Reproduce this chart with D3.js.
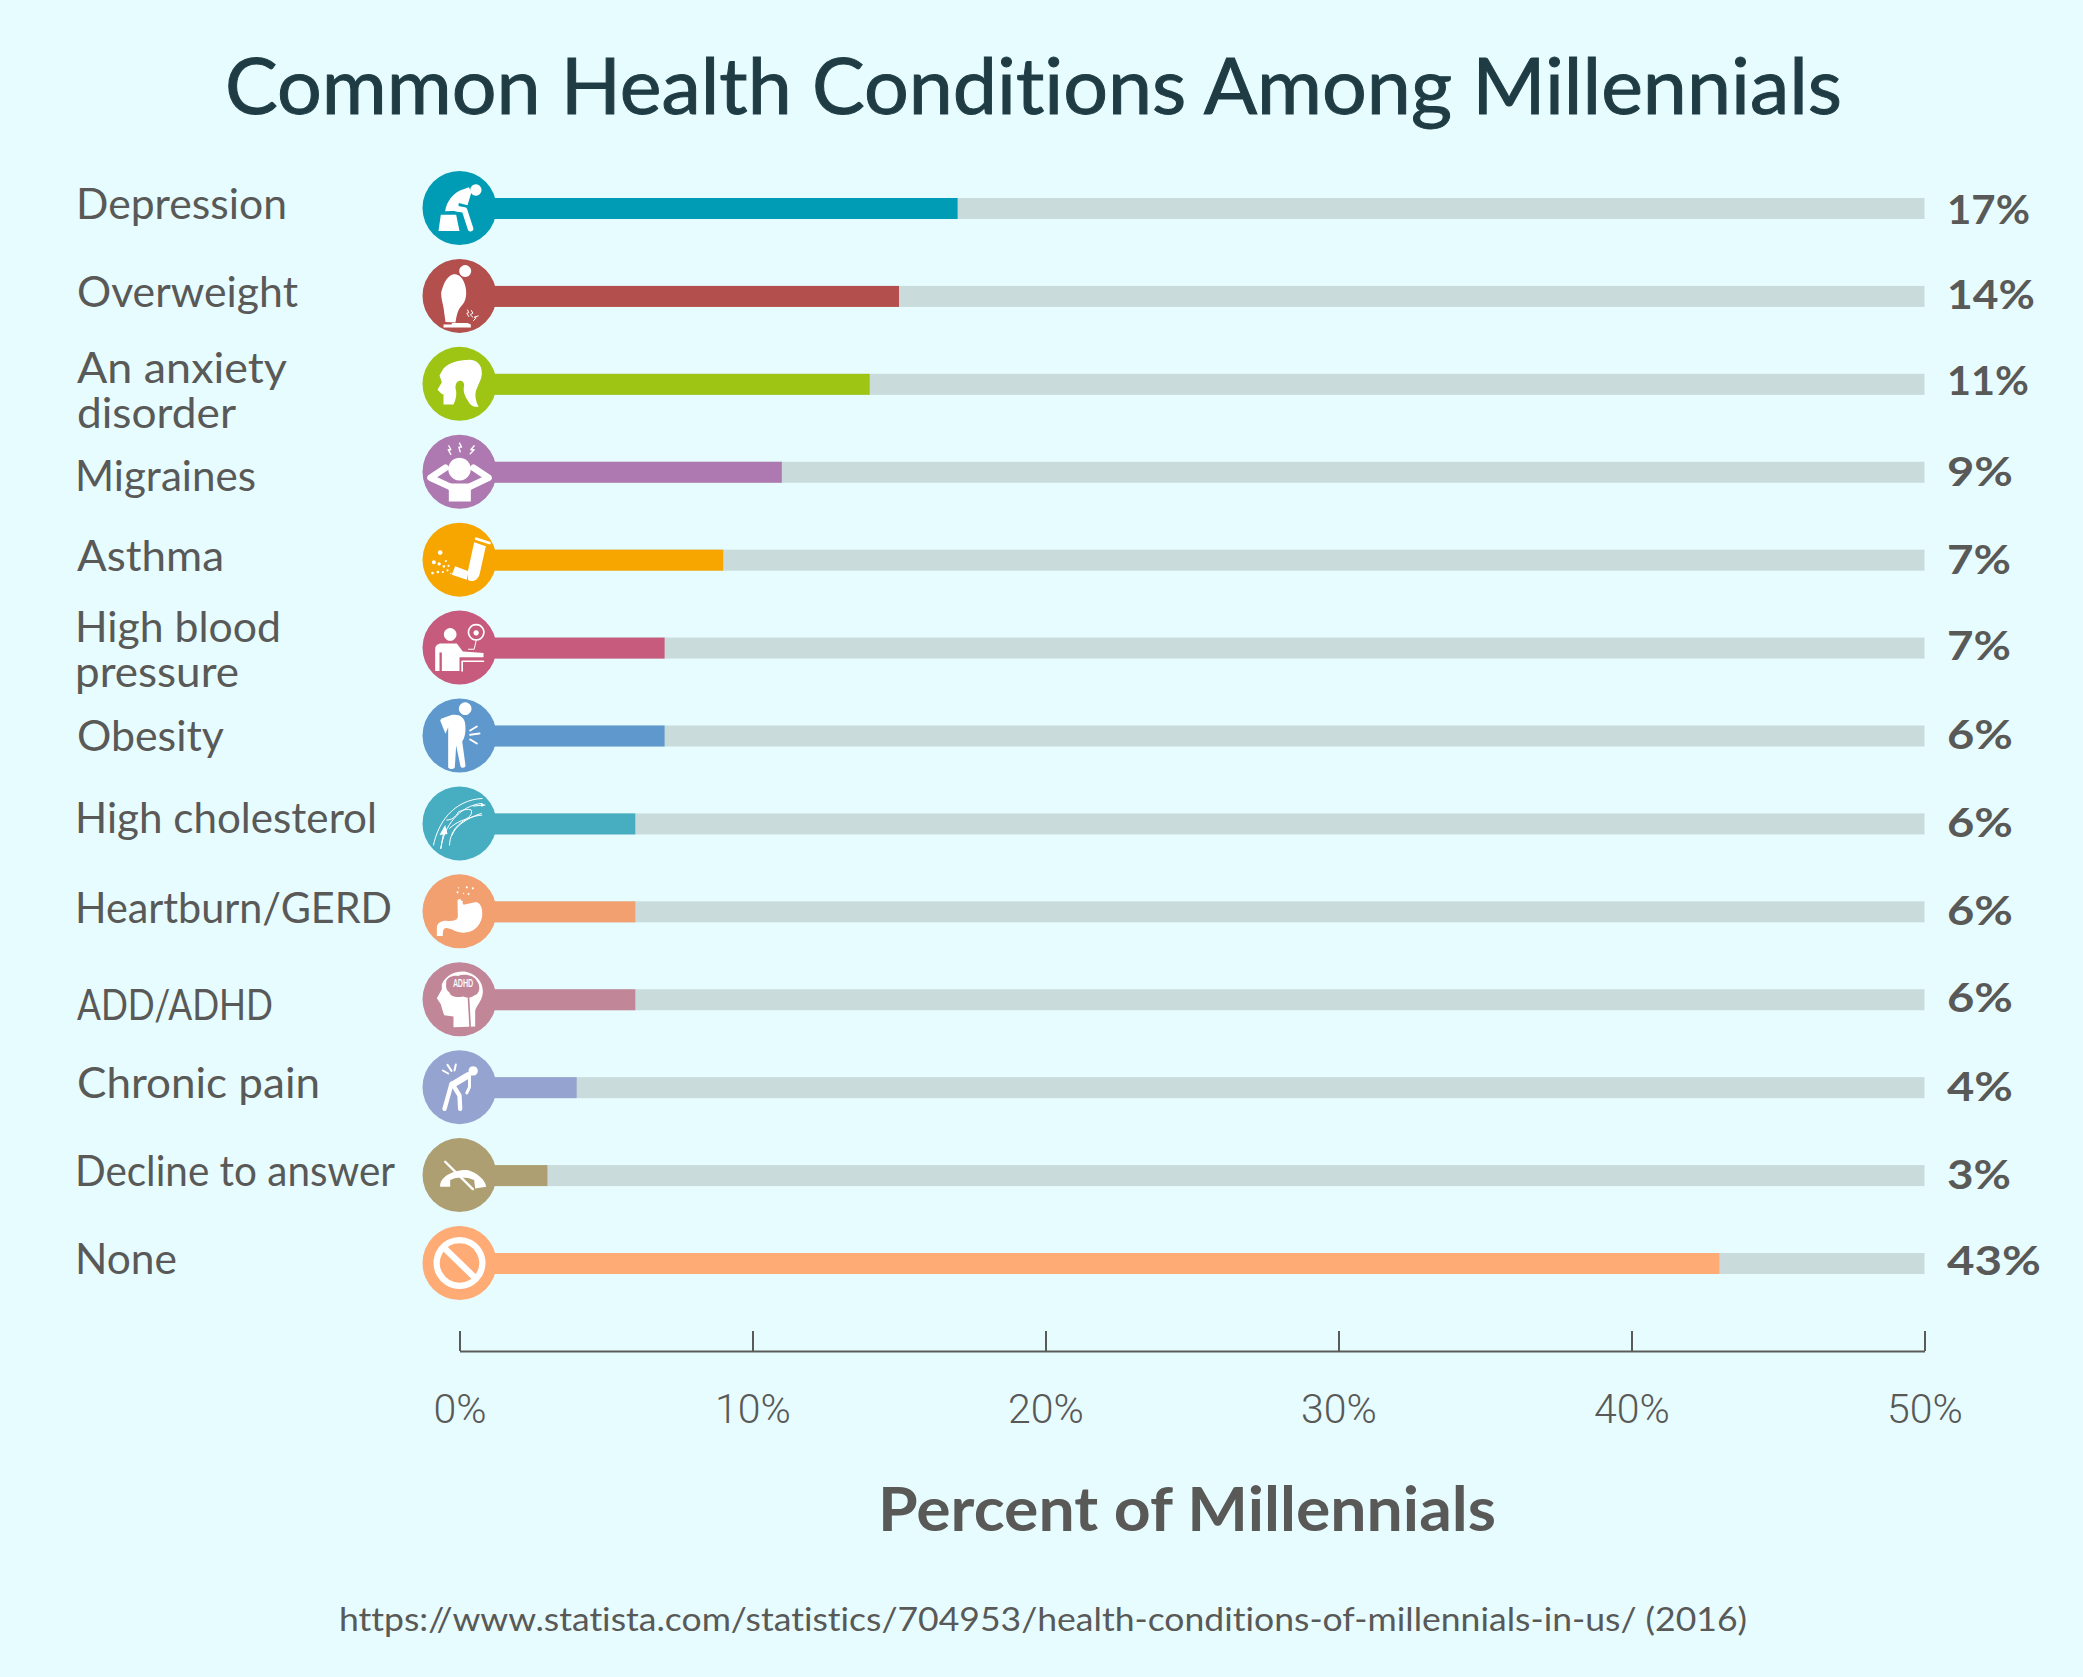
<!DOCTYPE html>
<html>
<head>
<meta charset="utf-8">
<script src="https://cdn.jsdelivr.net/npm/d3@7"></script>
<style>
  html, body { margin: 0; padding: 0; background: #e7fcff; }
  svg { display: block; }
  text { font-family: Lato, sans-serif; fill: #595957; font-variant-ligatures: none; }
</style>
</head>
<body>
<script>
// values
var categories = ["Depression", "Overweight", "An anxiety disorder", "Migraines", "Asthma", "High blood pressure", "Obesity", "High cholesterol", "Heartburn/GERD", "ADD/ADHD", "Chronic pain", "Decline to answer", "None"];
var barValues = [17, 15, 14, 11, 9, 7, 7, 6, 6, 6, 4, 3, 43];
var shownLabels = ["17%", "14%", "11%", "9%", "7%", "7%", "6%", "6%", "6%", "6%", "4%", "3%", "43%"];
var colours = ["#009cb5", "#b34f4c", "#9fc514", "#ae78b0", "#f7a600", "#c75b7e", "#5f98cc", "#47adc1", "#f2a070", "#c28699", "#95a3d0", "#ae9f73", "#ffab76"];
var xTicks = [0, 10, 20, 30, 40, 50];

var titleText = "Common Health Conditions Among Millennials";
var xTitle = "Percent of Millennials";
var sourceText = "https://www.statista.com/statistics/704953/health-conditions-of-millennials-in-us/ (2016)";

// label layout, the reference labels are not regular
var labelLines = [["Depression"], ["Overweight"], ["An anxiety", "disorder"], ["Migraines"], ["Asthma"], ["High blood", "pressure"], ["Obesity"], ["High cholesterol"], ["Heartburn/GERD"], ["ADD/ADHD"], ["Chronic pain"], ["Decline to answer"], ["None"]];
var labelWidths = [[211], [221], [210, 159], [181], [147], [206, 164], [147], [302], [317], [196], [243], [320], [102]];
var labelLeft = [76, 77, 77, 75, 77, 75, 77, 75, 75, 77, 77, 75, 75];
var labelBaseline = [[219], [307], [383, 428], [491], [571], [642, 687], [751], [833], [923], [1020], [1098], [1186], [1274]];
var valueBaseline = [224, 309, 395, 486, 574, 660, 749, 837, 925, 1012, 1101, 1189, 1275];
var valueWidths = [83, 88, 82, 66, 64, 64, 66, 66, 66, 66, 66, 64, 94];

var width = 2083, height = 1677;

var svg = d3.select("body").append("svg")
    .attr("width", width)
    .attr("height", height);

svg.append("rect")
    .attr("width", width)
    .attr("height", height)
    .attr("fill", "#e7fcff");

var x = d3.scaleLinear().domain([0, 50]).range([459.5, 1924.5]);
var y = d3.scalePoint().domain(categories).range([208, 1263]);

svg.append("text")
    .attr("x", 225)
    .attr("y", 114)
    .attr("font-size", 78)
    .attr("textLength", 1617)
    .attr("lengthAdjust", "spacingAndGlyphs")
    .style("fill", "#1f3c44")
    .style("stroke", "#1f3c44")
    .style("stroke-width", 1)
    .text(titleText);

// grey tracks
svg.selectAll("rect.track")
    .data(categories)
    .enter().append("rect")
    .attr("class", "track")
    .attr("x", x(0))
    .attr("y", function(d) { return y(d) - 10; })
    .attr("width", x(50) - x(0))
    .attr("height", 21)
    .attr("fill", "#c9dcdb");

// coloured bars
svg.selectAll("rect.bar")
    .data(categories)
    .enter().append("rect")
    .attr("class", "bar")
    .attr("x", x(0))
    .attr("y", function(d) { return y(d) - 10; })
    .attr("width", function(d, i) { return x(barValues[i]) - x(0); })
    .attr("height", 21)
    .attr("fill", function(d, i) { return colours[i]; });

svg.selectAll("circle.badge")
    .data(categories)
    .enter().append("circle")
    .attr("class", "badge")
    .attr("cx", x(0))
    .attr("cy", function(d) { return y(d); })
    .attr("r", 37)
    .attr("fill", function(d, i) { return colours[i]; });

// icons, drawn in units of 1/3 px around the badge centre
// [path, stroke width, butt caps, row colour] - no stroke width means filled
var icons = [
  [["M49,-71a17,17 0 1,0 .1,0Z"], ["M-56,20L-10,20L0,69L-63,69Z"],
   ["M-43,10C-40,-18 -18,-48 12,-56L28,-62L36,-48L24,-8L-2,-15L-5,8Z"], ["M-10,2L15,6L33,62", 17]],
  [["M17,-92.5a18,18 0 1,0 .1,0Z"],
   ["M-18,-65C-40,-60 -50,-30 -55,-10C-55,15 -48,25 -46,50L-42,78L-12,80C-8,55 -5,40 10,25C22,10 24,-20 12,-45C6,-58 -5,-66 -18,-65Z"],
   ["M-48,86L-24,86L-22,81L24,81L34,86L34,95L-48,95Z"],
   ["M24,42L28,50L22,52L28,62", 3], ["M36,44L40,52L32,56L40,64", 3], ["M56,60L44,64L50,66L42,74", 3]],
  [["M-53,-38C-40,-62 -5,-72 32,-72C58,-70 68,-50 67,-30C66,-5 45,15 48,40C50,55 55,65 58,68C45,72 32,65 25,50C15,35 10,20 14,5C14,-8 5,-12 -3,-8C-12,-4 -14,8 -10,22C-8,40 -15,55 -18,62L-48,62L-48,32L-54,30L-66,18L-53,-5L-60,-25Z"]],
  [["M0,-42a34,34 0 1,0 .1,0Z"], ["M-50,35L50,35L34,55L34,89L-32,89L-32,55Z"],
   ["M-30,44L-87,18L-42,-12", 20], ["M32,44L87,18L42,-12", 20],
   ["M-32,-78L-26,-66L-34,-66L-26,-52", 4], ["M0,-86L6,-74L-2,-74L2,-60", 4], ["M44,-78L34,-66L44,-66L32,-54", 4]],
  [["M44,-52L79,-40L60,45C52,65 38,66 26,62L25,35Z"], ["M50,-63L90,-50", 8], ["M-13,20L27,35L22,60L-23,45Z"],
   ["M-58,-28a7,7 0 1,0 .1,0Z"], ["M-77,2a6,6 0 1,0 .1,0Z"], ["M-61,8a5,5 0 1,0 .1,0Z"], ["M-47,16a4,4 0 1,0 .1,0Z"],
   ["M-33,15a3,3 0 1,0 .1,0Z"], ["M-41,1a3,3 0 1,0 .1,0Z"], ["M-81,36a4,4 0 1,0 .1,0Z"], ["M-65,33a4,4 0 1,0 .1,0Z"],
   ["M-50,34a3,3 0 1,0 .1,0Z"], ["M-36,29a3,3 0 1,0 .1,0Z"], ["M-26,39a2,2 0 1,0 .1,0Z"]],
  [["M-28,-58.5a19,19 0 1,0 .1,0Z"],
   ["M-73,70L-73,5C-73,-5 -65,-12 -55,-12L-8,-12L10,12L72,16L72,29L0,29L0,70L-53,70L-53,15L-60,15L-60,70Z"],
   ["M72,41L8,41L8,70", 5], ["M50,-69a23,23 0 1,0 .1,0Z", 5, true], ["M50,-52a8,8 0 1,0 .1,0Z"], ["M50,-21L44,5L27,5", 3]],
  [["M17,-99.5a19,19 0 1,0 .1,0Z"],
   ["M-22,-62C0,-65 15,-55 17,-35C20,-10 15,10 8,17L18,90C18,97 6,100 3,92L-10,30L-14,95C-16,102 -32,102 -34,95L-34,-25L-42,-5L-58,-45L-55,-50Z"],
   ["M32,-15L52,-27", 6], ["M32,-2L60,-6", 6], ["M32,12L52,24", 6]],
  [["M-78,65C-65,0 -20,-70 68,-75", 3], ["M-56,75C-48,10 0,-55 68,-60", 3], ["M-30,65C-28,15 10,-20 67,-25", 3], ["M-22,35C-15,10 20,-15 65,-30", 3],
   ["M-38,-10C-25,-10 -12,-18 -3,-35C10,-40 25,-45 35,-40C40,-28 30,-15 5,-8C-8,-2 -20,5 -30,15", 3],
   ["M-43,5L-60,35L-36,32Z"], ["M-48,30L-56,75", 3], ["M42,-52L70,-55", 3], ["M65,-60L80,-55L65,-50Z"]],
  [["M-68,74L-68,50C-68,35 -55,28 -40,28C-20,30 -5,28 -5,14L-6,-34L2,-38L12,-20L50,-28C65,-25 70,-5 68,15C62,50 35,65 10,64C-15,62 -25,50 -40,50C-48,50 -50,58 -50,74Z"],
   ["M-6,-60a3,3 0 1,0 .1,0Z"], ["M27,-55a3,3 0 1,0 .1,0Z"], ["M40,-72a3,3 0 1,0 .1,0Z"], ["M-3,-72a2,2 0 1,0 .1,0Z"],
   ["M12,-56a2,2 0 1,0 .1,0Z"], ["M22,-75a3,3 0 1,0 .1,0Z"], ["M7,-32a3,3 0 1,0 .1,0Z"]],
  [["M-53,-45C-40,-75 -10,-85 15,-83C50,-78 72,-50 70,-20C68,5 50,20 47,35L47,82L-18,84L-18,52L-46,48L-52,30L-56,15L-68,-3L-53,-30Z"],
   ["M-40,-48C-42,-65 -20,-72 -5,-70C15,-78 45,-72 52,-55C65,-40 60,-15 45,-12C35,-2 20,-5 10,-8C-5,-5 -25,-5 -30,-20C-38,-25 -42,-35 -40,-48Z", 0, false, true],
   ["M27,-5L32,84", 5, false, true]],
  [["M41,-63a14,14 0 1,0 .1,0Z"], ["M-20,-8L25,-35", 20], ["M-24,-10L-45,65", 13], ["M-18,-4L0,25L2,65", 13], ["M30,-28L30,0L22,17", 9],
   ["M-50,-50L-34,-41", 6], ["M-36,-67L-24,-49", 6], ["M-11,-68L-15,-50", 6]],
  [["M-58,35C-60,0 -8,-15 17,-15C40,-15 77,10 80,35L47,40L44,15C20,5 -8,5 -28,15L-28,35Z"], ["M-43,-40L40,42", 7]],
  [["M0,-68.5a68.5,68.5 0 1,0 .1,0Z", 19, true], ["M-48,-47L48,46", 19]]
];

var iconGroups = svg.selectAll("g.icon")
    .data(categories)
    .enter().append("g")
    .attr("class", "icon")
    .attr("transform", function(d) { return "translate(" + x(0) + "," + y(d) + ") scale(0.3333)"; });

iconGroups.each(function(d, i) {
  var g = d3.select(this);
  icons[i].forEach(function(p) {
    var paint = p[3] ? colours[i] : "#fff";
    var path = g.append("path").attr("d", p[0]);
    if (p[1]) {
      path.attr("fill", "none")
          .attr("stroke", paint)
          .attr("stroke-width", p[1])
          .attr("stroke-linecap", p[2] ? "butt" : "round")
          .attr("stroke-linejoin", "round");
    } else {
      path.attr("fill", paint);
    }
  });
});

// the word on the brain of the ADD/ADHD icon
svg.append("text")
    .attr("x", x(0) + 3.7)
    .attr("y", y("ADD/ADHD") - 12)
    .attr("text-anchor", "middle")
    .attr("font-size", 11)
    .attr("font-weight", 700)
    .attr("textLength", 20)
    .attr("lengthAdjust", "spacingAndGlyphs")
    .style("fill", "#fff")
    .text("ADHD");

// category labels, one text per category with a tspan per line
labelLines.forEach(function(lines, i) {
  var label = svg.append("text")
      .attr("font-size", 43);
  lines.forEach(function(line, j) {
    label.append("tspan")
        .attr("x", labelLeft[i])
        .attr("y", labelBaseline[i][j])
        .attr("textLength", labelWidths[i][j])
        .attr("lengthAdjust", "spacingAndGlyphs")
        .text(line);
  });
});

// value labels
svg.selectAll("text.value")
    .data(shownLabels)
    .enter().append("text")
    .attr("class", "value")
    .attr("x", 1947)
    .attr("y", function(d, i) { return valueBaseline[i]; })
    .attr("font-size", 41)
    .attr("font-weight", 700)
    .attr("textLength", function(d, i) { return valueWidths[i]; })
    .attr("lengthAdjust", "spacingAndGlyphs")
    .text(function(d) { return d; });

// axis
var axis = d3.axisBottom(x)
    .tickValues(xTicks)
    .tickSize(-20)
    .tickSizeOuter(0)
    .tickPadding(43)
    .tickFormat(function(d) { return d + "%"; });

var axisG = svg.append("g")
    .attr("transform", "translate(0,1351)")
    .call(axis);

axisG.selectAll("path, line")
    .attr("stroke", "#5a5a58")
    .attr("stroke-width", 2);

axisG.selectAll("text")
    .attr("font-size", 41)
    .style("font-family", "Roboto, sans-serif")
    .style("font-weight", 300)
    .style("fill", "#595957");

svg.append("text")
    .attr("x", 878)
    .attr("y", 1531)
    .attr("font-size", 62)
    .attr("font-weight", 700)
    .attr("textLength", 618)
    .attr("lengthAdjust", "spacingAndGlyphs")
    .text(xTitle);

svg.append("text")
    .attr("x", 339)
    .attr("y", 1631)
    .attr("font-size", 33)
    .attr("textLength", 1408)
    .attr("lengthAdjust", "spacingAndGlyphs")
    .text(sourceText);
</script>
</body>
</html>
